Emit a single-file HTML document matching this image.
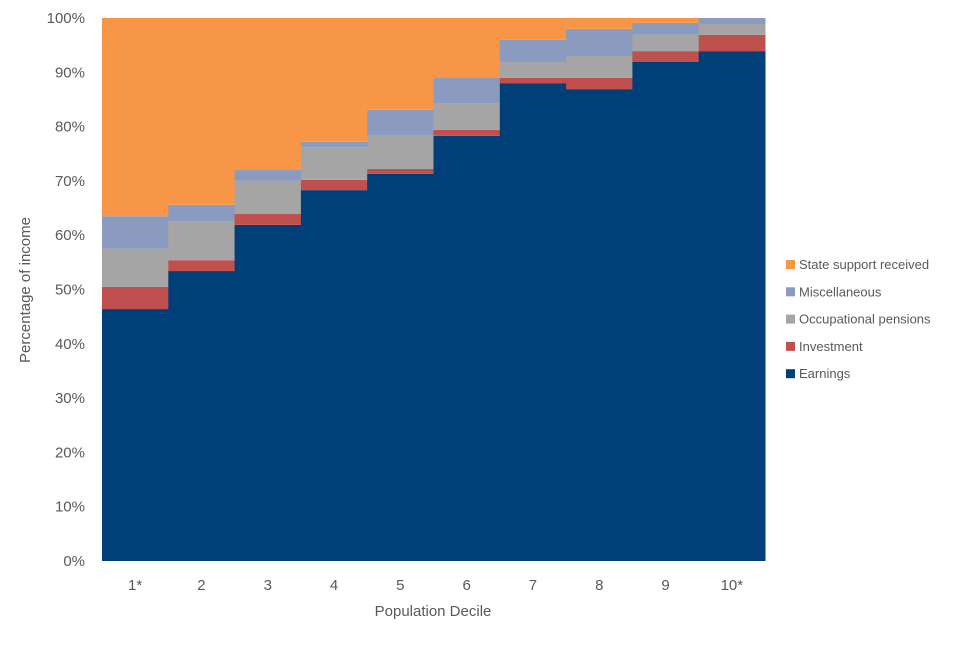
<!DOCTYPE html>
<html><head><meta charset="utf-8"><style>
body{margin:0;background:#fff;font-family:"Liberation Sans",sans-serif;}
svg text{font-family:"Liberation Sans",sans-serif;fill:#595959;}
</style></head><body>
<svg id="chart" width="960" height="640">
<g id="grid"></g><g id="bars"></g><g id="axes"></g><g id="legend"></g>
<text x="30" y="290" font-size="15" text-anchor="middle" transform="rotate(-90 30 290)">Percentage of income</text>
<text x="433" y="616" font-size="15" text-anchor="middle">Population Decile</text>
</svg>
<script>
const categories=["1*","2","3","4","5","6","7","8","9","10*"];
const earnings=[46.4,53.4,61.9,68.3,71.3,78.3,88.0,86.9,91.9,93.9];
const investment=[4.1,2.0,2.0,1.9,0.9,1.1,1.0,2.1,2.0,3.0];
const occupational=[7.0,7.2,6.1,6.0,6.1,4.8,2.9,4.0,3.0,2.0];
const miscellaneous=[6.0,3.0,2.0,1.0,4.8,4.9,4.1,5.0,2.2,1.1];
const stateSupport=[36.5,34.4,28.0,22.8,16.9,10.9,4.0,2.0,0.9,0.0];
const yTicks=[0,10,20,30,40,50,60,70,80,90,100];
const series=[
 {name:"Earnings",vals:earnings,color:"#003f78"},
 {name:"Investment",vals:investment,color:"#c0504d"},
 {name:"Occupational pensions",vals:occupational,color:"#a5a5a5"},
 {name:"Miscellaneous",vals:miscellaneous,color:"#8a9bbf"},
 {name:"State support received",vals:stateSupport,color:"#f79646"}];
const X0=102,X1=765,Y0=561,Y1=18;
const bw=(X1-X0)/categories.length;
const xs=i=>X0+i*bw;
const ys=v=>Y0-(v/100)*(Y0-Y1);
const NS="http://www.w3.org/2000/svg";
function mk(t,a,p){const e=document.createElementNS(NS,t);for(const k in a)e.setAttribute(k,a[k]);p.appendChild(e);return e;}
const bars=document.getElementById('bars'),axes=document.getElementById('axes'),leg=document.getElementById('legend');
yTicks.forEach(t=>{
 const tx=mk('text',{x:85,y:ys(t)+5,'font-size':15,'text-anchor':'end'},axes);
 tx.textContent=t+"%";
 
 
});
categories.forEach((c,i)=>{
 let cum=0;
 series.forEach(s=>{
  const v=s.vals[i];
  const r=mk('rect',{x:xs(i),y:ys(cum+v),width:bw+0.5,height:Math.max(0,ys(cum)-ys(cum+v)),fill:s.color},bars);
  
  
  cum+=v;
 });
 const tx=mk('text',{x:xs(i)+bw/2,y:590,'font-size':15,'text-anchor':'middle'},axes);
 tx.textContent=c;
 
 
});
series.slice().reverse().forEach((s,j)=>{
 const y=265+j*27.3;
 const r=mk('rect',{x:786,y:y-5,width:9,height:9,fill:s.color},leg);
 
 
 const t=mk('text',{x:799,y:y+4,'font-size':13},leg);
 t.textContent=s.name;
 
 
});
</script>
</body></html>
